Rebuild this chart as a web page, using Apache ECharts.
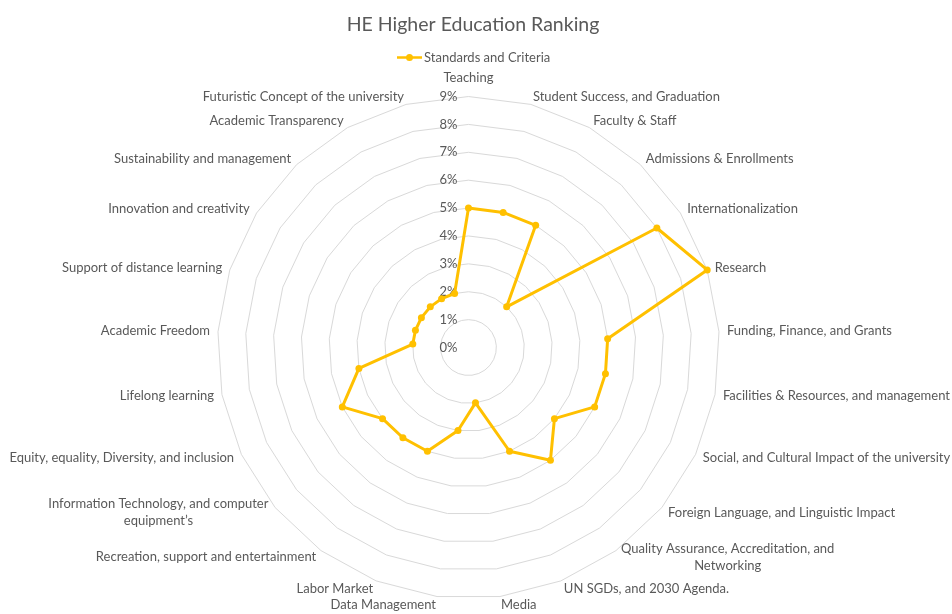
<!DOCTYPE html>
<html>
<head>
<meta charset="utf-8">
<title>HE Higher Education Ranking</title>
<script src="https://cdn.jsdelivr.net/npm/echarts@6/dist/echarts.min.js"></script>
<style>
  html, body { margin: 0; padding: 0; background: #fff; }
  #chart { width: 952px; height: 614px; }
</style>
</head>
<body>
<div id="chart"></div>
<script>
// criteria, clockwise from the top
const categories = [
  'Teaching',
  'Student Success, and Graduation',
  'Faculty & Staff',
  'Admissions & Enrollments',
  'Internationalization',
  'Research',
  'Funding, Finance, and Grants',
  'Facilities & Resources, and management',
  'Social, and Cultural Impact of the university',
  'Foreign Language, and Linguistic Impact',
  'Quality Assurance, Accreditation, and\nNetworking',
  'UN SGDs, and 2030 Agenda.',
  'Media',
  'Data Management',
  'Labor Market',
  'Recreation, support and entertainment',
  'Information Technology, and computer\nequipment\u2019s',
  'Equity, equality, Diversity, and inclusion',
  'Lifelong learning',
  'Academic Freedom',
  'Support of distance learning',
  'Innovation and creativity',
  'Sustainability and management',
  'Academic Transparency',
  'Futuristic Concept of the university'
];
// weight of each criterion, in percent
const weights = [5, 5, 5, 2, 8, 9, 5, 5, 5, 4, 5, 4, 2, 3, 4, 4, 4, 5, 4, 2, 2, 2, 2, 2, 2];
const tickLabels = ['0%', '1%', '2%', '3%', '4%', '5%', '6%', '7%', '8%', '9%'];
const seriesName = 'Standards and Criteria';

const textColor = '#595959';
const fontFamily = 'Lato, "Open Sans", sans-serif';
const nameSize = 13;

// echarts lays radar axes out counter-clockwise; keep the first one on top and flip the rest
const order = [0].concat(categories.map((c, i) => i).slice(1).reverse());

// width of the widest line, so wrapped names can be centred line by line
const measureCtx = document.createElement('canvas').getContext('2d');
measureCtx.font = nameSize + 'px ' + fontFamily;
const lineWidth = (s) => Math.ceil(measureCtx.measureText(s).width);

const richStyles = {
  // top name sits a little higher above the rings
  top: { color: textColor, fontFamily: fontFamily, fontSize: nameSize, padding: [0, 0, 4, 0] }
};
const indicators = order.map((i) => {
  const name = categories[i];
  const ind = { name: name, min: 0, max: tickLabels.length - 1 };
  if (i === 0) {
    ind.axisLabel = {
      show: true,
      color: textColor,
      fontFamily: fontFamily,
      fontSize: 13,
      margin: 11,
      formatter: (v) => tickLabels[Math.round(v)]
    };
  }
  if (name.indexOf('\n') >= 0) {
    richStyles['w' + i] = {
      width: Math.max(...name.split('\n').map(lineWidth)),
      align: 'center',
      color: textColor,
      fontFamily: fontFamily,
      fontSize: nameSize,
      lineHeight: 17
    };
  }
  return ind;
});

const chart = echarts.init(document.getElementById('chart'));

chart.setOption({
  backgroundColor: '#fff',
  title: {
    text: 'HE Higher Education Ranking',
    left: 468,
    textAlign: 'center',
    top: 10,
    textStyle: {
      color: textColor,
      fontFamily: fontFamily,
      fontSize: 19.5,
      fontWeight: 'normal'
    }
  },
  legend: {
    data: [seriesName],
    left: 392,
    top: 46,
    itemWidth: 25,
    itemHeight: 7,
    itemGap: 10,
    icon: 'path://M0,4L25,4L25,6.5L0,6.5Z M16,5.25A3.5,3.5 0 1 1 9,5.25A3.5,3.5 0 1 1 16,5.25Z',
    textStyle: {
      color: textColor,
      fontFamily: fontFamily,
      fontSize: 13,
      padding: [0, 0, 0, -3]
    }
  },
  radar: {
    center: ['49.21%', '56.6%'],
    radius: 251,
    startAngle: 90,
    splitNumber: tickLabels.length - 1,
    shape: 'polygon',
    indicator: indicators,
    nameGap: 8,
    axisName: {
      color: textColor,
      fontFamily: fontFamily,
      fontSize: nameSize,
      rich: richStyles,
      formatter: (name) => {
        const i = categories.indexOf(name);
        if (i === 0) return '{top|' + name + '}';
        if (name.indexOf('\n') < 0) return name;
        return name.split('\n').map((s) => '{w' + i + '|' + s + '}').join('\n');
      }
    },
    axisLine: { show: false },
    axisTick: { show: false },
    axisLabel: { show: false },
    splitLine: { lineStyle: { color: '#d9d9d9', width: 1 } },
    splitArea: { show: false }
  },
  series: [
    {
      name: seriesName,
      type: 'radar',
      symbol: 'circle',
      symbolSize: 7,
      lineStyle: { color: '#FFC000', width: 3 },
      itemStyle: { color: '#FFC000' },
      data: [{ name: seriesName, value: order.map((i) => weights[i]) }]
    }
  ]
});
</script>
</body>
</html>
